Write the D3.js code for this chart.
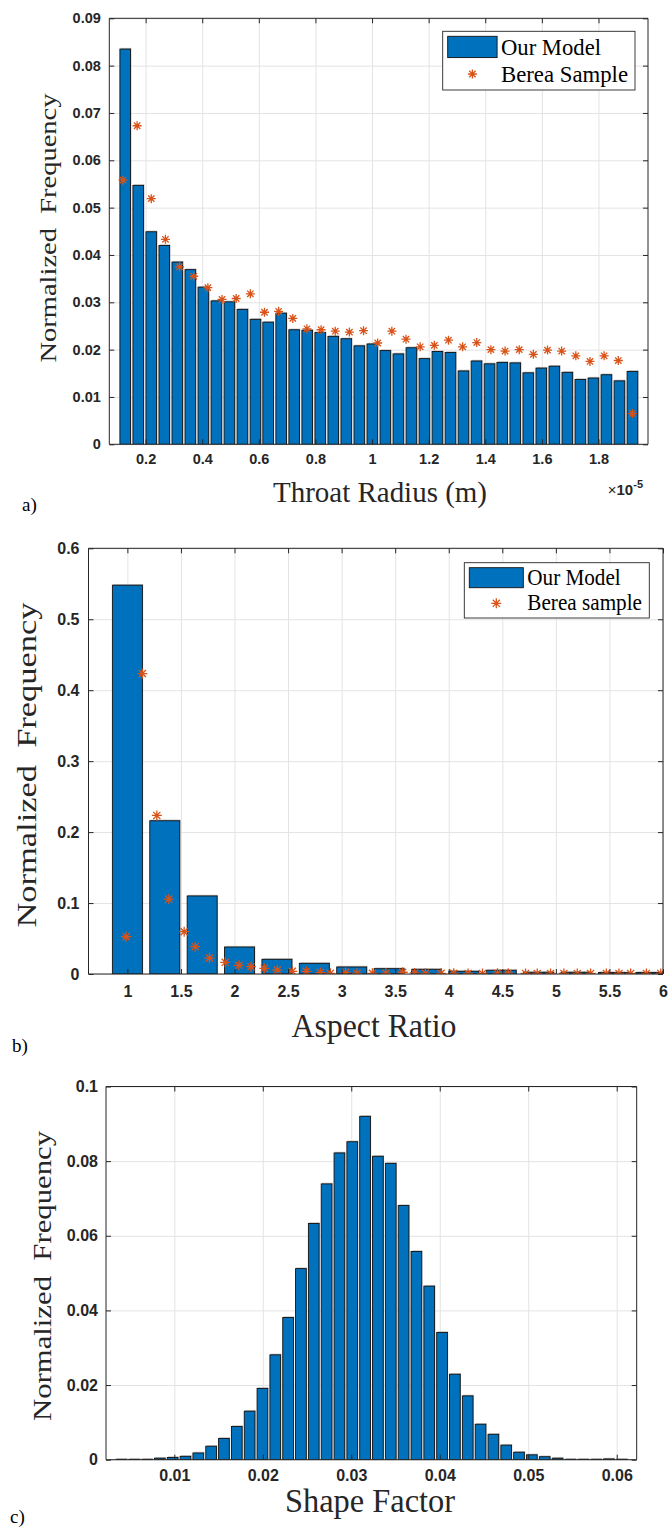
<!DOCTYPE html>
<html>
<head>
<meta charset="utf-8">
<script src="https://cdn.jsdelivr.net/npm/d3@7/dist/d3.min.js"></script>
<style>
  html, body { margin: 0; padding: 0; background: #fff; }
  svg { display: block; }
</style>
</head>
<body>
<svg id="chart" width="669" height="1527"></svg>
<script>
// ---------------- DATA ----------------
// Panel a) Throat radius (x in units of 1e-5 m)
const throatCenters = [0.128,0.174,0.220,0.266,0.312,0.358,0.404,0.450,0.496,0.542,
  0.588,0.633,0.679,0.725,0.771,0.817,0.863,0.909,0.955,1.001,
  1.047,1.093,1.139,1.185,1.231,1.277,1.323,1.369,1.415,1.460,
  1.506,1.552,1.598,1.644,1.690,1.736,1.782,1.828,1.874,1.920];
const throatModel = [0.0835,0.0547,0.0449,0.0420,0.0385,0.0369,0.0332,0.0303,0.0301,0.0285,
  0.0264,0.0258,0.0277,0.0242,0.0241,0.0236,0.0228,0.0223,0.0208,0.0212,
  0.0198,0.0191,0.0204,0.0181,0.0196,0.0194,0.0155,0.0176,0.0170,0.0173,
  0.0172,0.0151,0.0161,0.0165,0.0152,0.0137,0.0140,0.0147,0.0134,0.0154];
const throatBereaX = [0.12,0.17,0.22,0.27,0.32,0.37,0.42,0.47,0.52,0.57,
  0.62,0.67,0.72,0.77,0.82,0.87,0.92,0.97,1.02,1.07,
  1.12,1.17,1.22,1.27,1.32,1.37,1.42,1.47,1.52,1.57,
  1.62,1.67,1.72,1.77,1.82,1.87,1.92];
const throatBereaY = [0.0558,0.0673,0.0519,0.0433,0.0375,0.0355,0.0331,0.0306,0.0308,0.0318,
  0.0279,0.0281,0.0266,0.0244,0.0242,0.0239,0.0237,0.0240,0.0214,0.0239,
  0.0222,0.0206,0.0209,0.0220,0.0206,0.0215,0.0200,0.0197,0.0200,0.0190,
  0.0199,0.0197,0.0187,0.0175,0.0187,0.0177,0.0065];
const throatXTicks = [0.2,0.4,0.6,0.8,1,1.2,1.4,1.6,1.8];
const throatYTicks = [0,0.01,0.02,0.03,0.04,0.05,0.06,0.07,0.08,0.09];

// Panel b) Aspect ratio
const aspectCenters = [1.000,1.349,1.698,2.047,2.396,2.745,3.094,3.443,3.792,4.141,4.490,4.839,5.188,5.537,5.886];
const aspectModel = [0.548,0.216,0.110,0.038,0.0207,0.0150,0.0099,0.0075,0.0066,0.0038,0.0052,0.0024,0.0024,0.0020,0.0020];
const aspectBereaX = [0.988,1.140,1.275,1.387,1.530,1.633,1.766,1.913,2.041,2.153,
  2.278,2.399,2.540,2.670,2.801,2.895,3.037,3.144,3.287,3.413,
  3.570,3.682,3.782,3.929,4.047,4.181,4.315,4.455,4.555,4.717,
  4.826,4.950,5.075,5.200,5.324,5.471,5.589,5.698,5.845,5.979];
const aspectBereaY = [0.0525,0.4235,0.2235,0.1056,0.0596,0.0385,0.0225,0.0164,0.0122,0.0103,
  0.0080,0.0056,0.0038,0.0038,0.0020,0.0010,0.0020,0.0010,0.0010,0.0010,
  0.0025,0.0015,0.0010,0.0010,0.0010,0.0008,0.0008,0.0012,0.0012,0.0008,
  0.0008,0.0008,0.0008,0.0008,0.0008,0.0008,0.0008,0.0008,0.0008,0.0008];
const aspectXTicks = [1,1.5,2,2.5,3,3.5,4,4.5,5,5.5,6];
const aspectYTicks = [0,0.1,0.2,0.3,0.4,0.5,0.6];

// Panel c) Shape factor
const shapeCenters = [0.00401,0.00546,0.00691,0.00836,0.00981,0.01126,0.01271,0.01416,0.01561,0.01706,
  0.01851,0.01996,0.02141,0.02286,0.02431,0.02576,0.02721,0.02866,0.03011,0.03156,
  0.03301,0.03446,0.03591,0.03736,0.03881,0.04026,0.04171,0.04316,0.04461,0.04606,
  0.04751,0.04896,0.05041,0.05186,0.05331,0.05476,0.05621,0.05766,0.05911,0.06056];
const shapeModel = [0.0001,0.0001,0.0001,0.0004,0.0006,0.0009,0.0018,0.0036,0.0057,0.0089,
  0.0130,0.0191,0.0281,0.0381,0.0512,0.0633,0.0739,0.0822,0.0852,0.0920,
  0.0813,0.0794,0.0681,0.0558,0.0465,0.0341,0.0229,0.0171,0.0095,0.0068,
  0.0039,0.0020,0.0013,0.0008,0.0004,0.0001,0.0001,0.0001,0.0002,0.0001];
const shapeXTicks = [0.01,0.02,0.03,0.04,0.05,0.06];
const shapeYTicks = [0,0.02,0.04,0.06,0.08,0.1];

// ---------------- DRAWING ----------------
const BLUE = "#0072BD", ORANGE = "#D95319", AXIS = "#262626", GRID = "#e3e3e3";
const SERIF = "'Liberation Serif','Times New Roman',serif";
const SANS = "'Liberation Sans',Arial,Helvetica,sans-serif";
const svg = d3.select("#chart");

function starPath(r) {
  const d = r * 0.7071;
  return `M${-r},0L${r},0M0,${-r}L0,${r}M${-d},${-d}L${d},${d}M${-d},${d}L${d},${-d}`;
}

function drawPanel(cfg) {
  const { id, L, R, T, B, xDomain, yDomain } = cfg;
  const x = d3.scaleLinear().domain(xDomain).range([L, R]);
  const y = d3.scaleLinear().domain(yDomain).range([B, T]);
  const g = svg.append("g");

  // grid
  g.append("g").attr("transform", `translate(0,${B})`)
    .call(d3.axisBottom(x).tickValues(cfg.xTicks).tickSize(-(B - T)).tickFormat(""))
    .call(s => { s.select(".domain").remove(); s.selectAll("line").attr("stroke", GRID).attr("stroke-width", 1); });
  g.append("g").attr("transform", `translate(${L},0)`)
    .call(d3.axisLeft(y).tickValues(cfg.yTicks).tickSize(-(R - L)).tickFormat(""))
    .call(s => { s.select(".domain").remove(); s.selectAll("line").attr("stroke", GRID).attr("stroke-width", 1); });

  // clip
  svg.append("clipPath").attr("id", "clip" + id)
    .append("rect").attr("x", L).attr("y", T).attr("width", R - L).attr("height", B - T);
  const plot = g.append("g").attr("clip-path", `url(#clip${id})`);

  const bw = cfg.barWidth;
  const bars = cfg.centers.map((c, i) => ({ c, v: cfg.model[i] }));
  // light halo (as in the exported figure)
  plot.selectAll("rect.halo").data(bars).enter().append("rect")
    .attr("x", d => x(d.c - bw / 2) + 0.8)
    .attr("y", d => y(d.v) - 1.2)
    .attr("width", d => x(d.c + bw / 2) - x(d.c - bw / 2))
    .attr("height", d => B - y(d.v) + 1.2)
    .attr("fill", "#c4c4c4");
  plot.selectAll("rect.bar").data(bars).enter().append("rect")
    .attr("x", d => x(d.c - bw / 2))
    .attr("y", d => y(d.v))
    .attr("width", d => x(d.c + bw / 2) - x(d.c - bw / 2))
    .attr("height", d => B - y(d.v))
    .attr("fill", BLUE).attr("stroke", "#111").attr("stroke-width", 0.9);

  if (cfg.bereaX) {
    const pts = cfg.bereaX.map((bx, i) => ({ bx, by: cfg.bereaY[i] }));
    plot.selectAll("path.star").data(pts).enter().append("path")
      .attr("transform", d => `translate(${x(d.bx)},${y(d.by)})`)
      .attr("d", starPath(cfg.starR))
      .attr("stroke", ORANGE).attr("stroke-width", 1.3).attr("fill", "none");
  }

  // axes with inward ticks
  const fmt = d3.format("~g");
  const tl = 5;
  const ax = g.append("g").attr("transform", `translate(0,${B})`)
    .call(d3.axisBottom(x).tickValues(cfg.xTicks).tickSize(-tl).tickPadding(cfg.xPad).tickFormat(fmt));
  const ay = g.append("g").attr("transform", `translate(${L},0)`)
    .call(d3.axisLeft(y).tickValues(cfg.yTicks).tickSize(-tl).tickPadding(cfg.yPad).tickFormat(fmt));
  const at = g.append("g").attr("transform", `translate(0,${T})`)
    .call(d3.axisTop(x).tickValues(cfg.xTicks).tickSize(-tl).tickFormat(""));
  const ar = g.append("g").attr("transform", `translate(${R},0)`)
    .call(d3.axisRight(y).tickValues(cfg.yTicks).tickSize(-tl).tickFormat(""));
  [ax, ay, at, ar].forEach(a => {
    a.select(".domain").attr("stroke", AXIS).attr("stroke-width", 1);
    a.selectAll(".tick line").attr("stroke", AXIS).attr("stroke-width", 1);
    a.selectAll(".tick text").attr("fill", AXIS)
      .style("font-family", SANS).style("font-weight", "bold").style("font-size", cfg.tickFont + "px");
  });
  [ax, at].forEach(a => a.select(".domain").attr("d", `M${L},0H${R}`));
  [ay, ar].forEach(a => a.select(".domain").attr("d", `M0,${T}V${B}`));

  // y label
  svg.append("text")
    .attr("transform", `translate(${cfg.yLab.x},${cfg.yLab.y}) rotate(-90)`)
    .attr("text-anchor", "middle")
    .attr("textLength", cfg.yLab.len).attr("lengthAdjust", "spacingAndGlyphs")
    .style("font-family", SERIF).style("font-size", cfg.yLab.size + "px").attr("fill", AXIS)
    .style("white-space", "pre")
    .text("Normalized  Frequency");
  // x label
  svg.append("text")
    .attr("x", cfg.xLab.x).attr("y", cfg.xLab.y)
    .attr("text-anchor", "middle")
    .attr("textLength", cfg.xLab.len).attr("lengthAdjust", "spacingAndGlyphs")
    .style("font-family", SERIF).style("font-size", cfg.xLab.size + "px").attr("fill", AXIS)
    .text(cfg.xLab.text);
  // panel letter
  svg.append("text").attr("x", cfg.letter.x).attr("y", cfg.letter.y)
    .style("font-family", SERIF).style("font-size", "19px").attr("fill", "#000")
    .text(cfg.letter.text);

  // legend
  if (cfg.legend) {
    const lg = cfg.legend;
    svg.append("rect").attr("x", lg.x).attr("y", lg.y).attr("width", lg.w).attr("height", lg.h)
      .attr("fill", "#fff").attr("stroke", AXIS).attr("stroke-width", 0.9);
    svg.append("rect").attr("x", lg.x + 5).attr("y", lg.y + 5).attr("width", lg.pw).attr("height", lg.ph)
      .attr("fill", BLUE).attr("stroke", "#111").attr("stroke-width", 0.9);
    svg.append("path").attr("transform", `translate(${lg.x + 5 + lg.pw / 2},${lg.starY})`)
      .attr("d", starPath(cfg.starR)).attr("stroke", ORANGE).attr("stroke-width", 1.3).attr("fill", "none");
    lg.labels.forEach((t, i) => {
      svg.append("text").attr("x", lg.tx).attr("y", lg.base[i])
        .attr("textLength", lg.lens[i]).attr("lengthAdjust", "spacingAndGlyphs")
        .style("font-family", SERIF).style("font-size", lg.size + "px").attr("fill", "#000")
        .text(t);
    });
  }
  return { x, y };
}

// Panel a
drawPanel({
  id: "a", L: 109.3, R: 648, T: 18.3, B: 444.3,
  xDomain: [0.0717, 1.975], yDomain: [0, 0.09],
  xTicks: throatXTicks, yTicks: throatYTicks,
  centers: throatCenters, model: throatModel, barWidth: 0.0377,
  bereaX: throatBereaX, bereaY: throatBereaY, starR: 4.5,
  tickFont: 14.5, xPad: 9, yPad: 8.5,
  yLab: { x: 56, y: 228, len: 269, size: 24 },
  xLab: { x: 380, y: 502, len: 214, size: 29, text: "Throat Radius (m)" },
  letter: { x: 22, y: 511, text: "a)" },
  legend: { x: 442.7, y: 31.3, w: 192.3, h: 58.7, pw: 49.4, ph: 21.3, starY: 74,
    tx: 501, base: [55, 81.7], lens: [100, 127], size: 23, labels: ["Our Model", "Berea Sample"] }
});
// ×10^-5
const mult = svg.append("text").attr("x", 643).attr("y", 495).attr("text-anchor", "end")
  .style("font-family", SANS).style("font-size", "15px").attr("fill", AXIS);
mult.append("tspan").text("\u00d7");
mult.append("tspan").style("font-weight", "bold").text("10");
mult.append("tspan").attr("dy", -7).style("font-weight", "bold").style("font-size", "11px").text("-5");

// Panel b
drawPanel({
  id: "b", L: 88.5, R: 663, T: 548.3, B: 974,
  xDomain: [0.637, 6], yDomain: [0, 0.6],
  xTicks: aspectXTicks, yTicks: aspectYTicks,
  centers: aspectCenters, model: aspectModel, barWidth: 0.28,
  bereaX: aspectBereaX, bereaY: aspectBereaY, starR: 5,
  tickFont: 16, xPad: 12, yPad: 9,
  yLab: { x: 36, y: 765, len: 325, size: 27 },
  xLab: { x: 374, y: 1037, len: 165, size: 33, text: "Aspect Ratio" },
  letter: { x: 12, y: 1052, text: "b)" },
  legend: { x: 464.3, y: 562.7, w: 185, h: 55.3, pw: 54, ph: 20, starY: 603.3,
    tx: 527.3, base: [585, 610], lens: [93.4, 114.7], size: 23, labels: ["Our Model", "Berea sample"] }
});

// Panel c
drawPanel({
  id: "c", L: 106, R: 636.7, T: 1086.5, B: 1459.7,
  xDomain: [0.00228, 0.06226], yDomain: [0, 0.1],
  xTicks: shapeXTicks, yTicks: shapeYTicks,
  centers: shapeCenters, model: shapeModel, barWidth: 0.00121,
  tickFont: 16, xPad: 10, yPad: 8,
  yLab: { x: 51, y: 1276, len: 290, size: 26 },
  xLab: { x: 370, y: 1512, len: 170, size: 33, text: "Shape Factor" },
  letter: { x: 10, y: 1523, text: "c)" }
});
</script>
</body>
</html>
